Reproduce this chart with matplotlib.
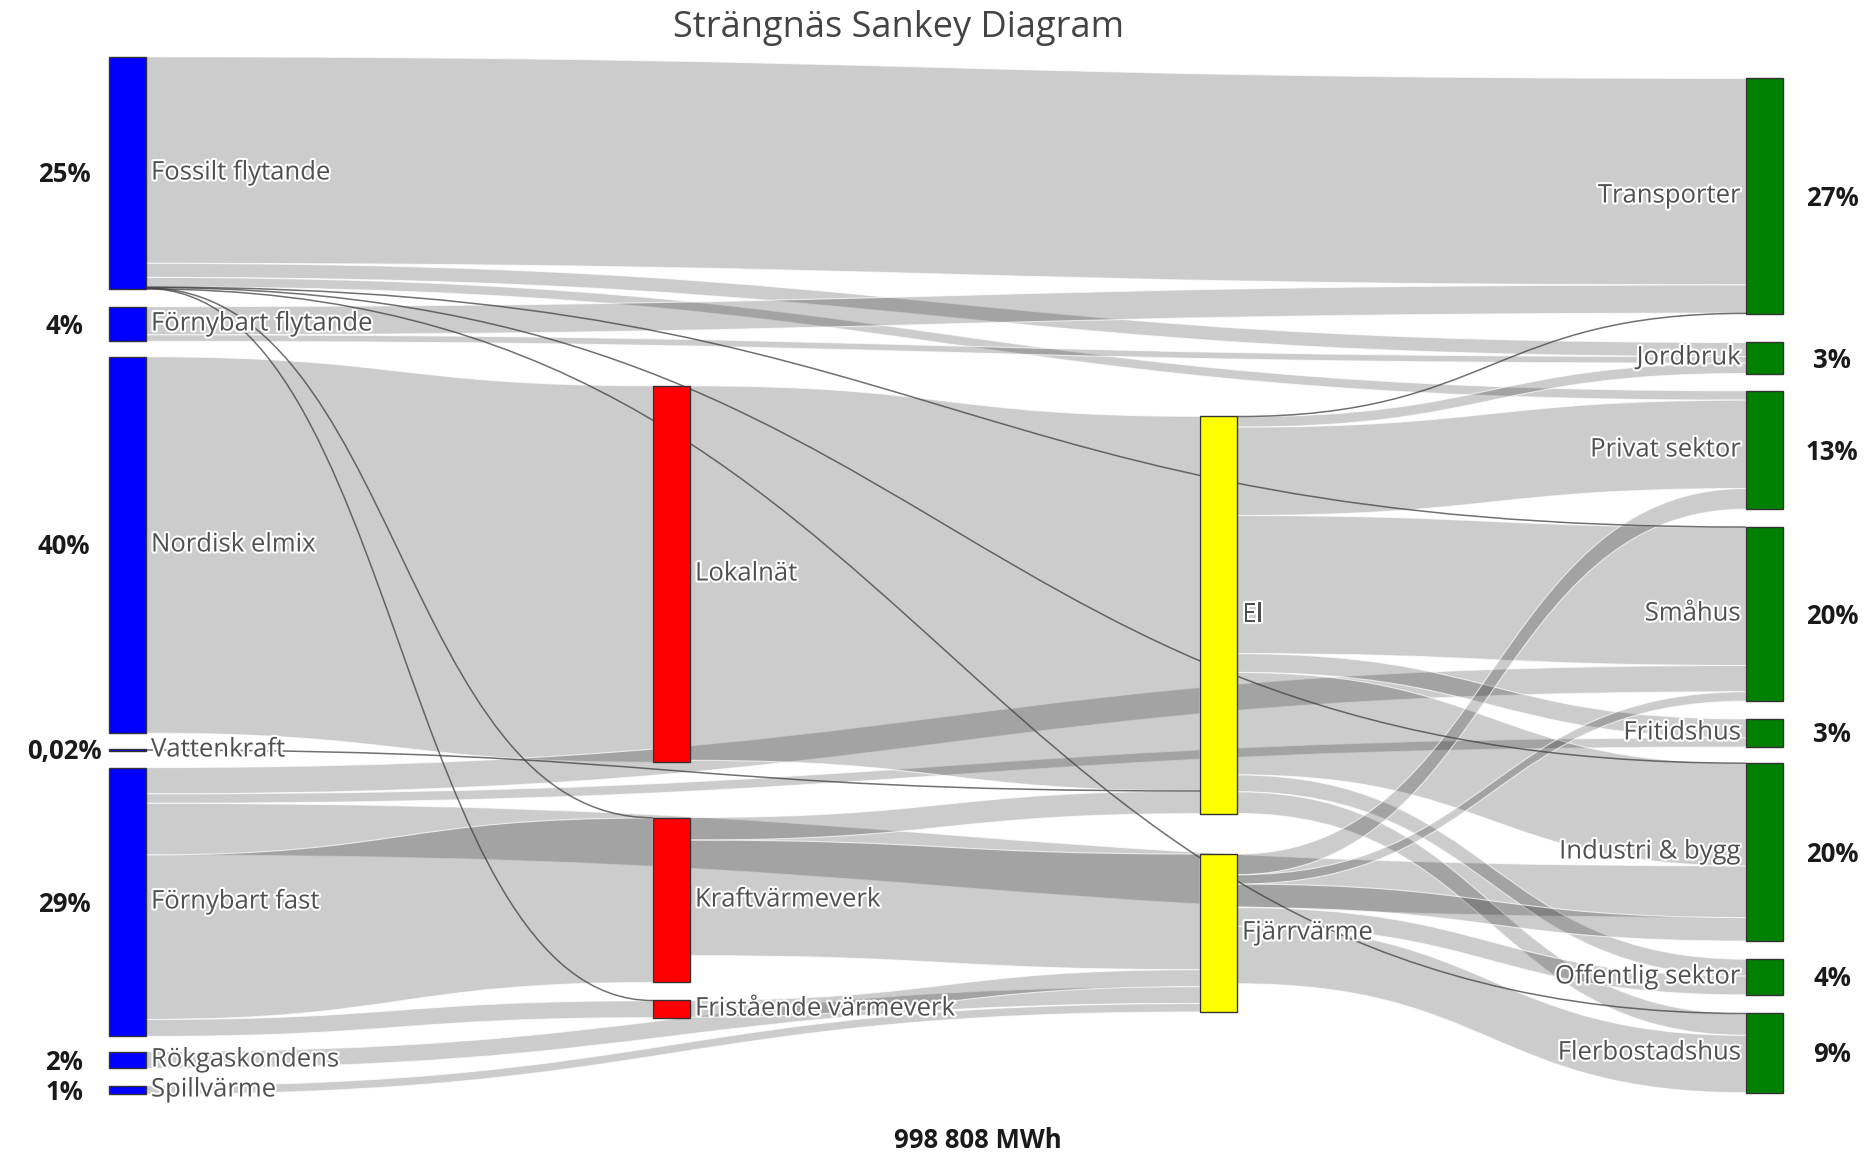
import matplotlib.pyplot as plt
import matplotlib.patheffects as pe
from matplotlib.path import Path
from matplotlib.patches import PathPatch, Rectangle

plt.rcParams['font.family'] = ['Open Sans', 'DejaVu Sans']

# nodes (column 0 = sources, 3 = end use)
labels = ["Fossilt flytande", "Förnybart flytande", "Nordisk elmix", "Vattenkraft",
          "Förnybart fast", "Rökgaskondens", "Spillvärme",
          "Lokalnät", "Kraftvärmeverk", "Fristående värmeverk",
          "El", "Fjärrvärme",
          "Transporter", "Jordbruk", "Privat sektor", "Småhus", "Fritidshus",
          "Industri & bygg", "Offentlig sektor", "Flerbostadshus"]
column = [0, 0, 0, 0, 0, 0, 0, 1, 1, 1, 2, 2, 3, 3, 3, 3, 3, 3, 3, 3]
colors = ["#0000ff"] * 7 + ["#ff0000"] * 3 + ["#ffff00"] * 2 + ["#008000"] * 8

# flows, GWh (total 998 808 MWh)
link_source = ["Fossilt flytande"] * 8 + ["Förnybart flytande"] * 2 + ["Nordisk elmix", "Vattenkraft"] \
    + ["Förnybart fast"] * 5 + ["Rökgaskondens", "Spillvärme", "Lokalnät", "Kraftvärmeverk",
                                "Kraftvärmeverk", "Fristående värmeverk"] \
    + ["El"] * 8 + ["Fjärrvärme"] * 5
link_target = ["Transporter", "Jordbruk", "Privat sektor", "Kraftvärmeverk", "Fristående värmeverk",
               "Småhus", "Industri & bygg", "Flerbostadshus",
               "Transporter", "Jordbruk",
               "Lokalnät", "El",
               "Småhus", "Fritidshus", "Industri & bygg", "Kraftvärmeverk", "Fristående värmeverk",
               "Fjärrvärme", "Fjärrvärme", "El", "El", "Fjärrvärme", "Fjärrvärme",
               "Transporter", "Jordbruk", "Privat sektor", "Småhus", "Fritidshus",
               "Industri & bygg", "Offentlig sektor", "Flerbostadshus",
               "Privat sektor", "Småhus", "Industri & bygg", "Offentlig sektor", "Flerbostadshus"]
link_value = [219.7, 15.0, 10.0, 0.5, 0.5, 0.5, 0.5, 0.5,
              30.0, 7.0,
              400.5, 0.2,
              28.0, 10.0, 55.0, 175.0, 18.0,
              18.0, 9.0, 398.5, 24.0, 123.0, 18.0,
              0.5, 11.0, 94.0, 147.0, 20.0, 109.0, 18.0, 23.0,
              22.0, 10.0, 25.0, 20.0, 61.0]

share_left = ["25%", "4%", "40%", "0,02%", "29%", "2%", "1%"]
share_right = ["27%", "3%", "13%", "20%", "3%", "20%", "4%", "9%"]
total_text = "998 808 MWh"

# layout (like plotly node.x / node.y)
col_x = [109, 653, 1200, 1746]
node_w = 37
node_yc = [173, 324, 545, 750, 902, 1060, 1090,
           574, 900, 1009,
           615, 933,
           196, 358, 450, 614, 733, 852, 977, 1053]
scale = (1094 - 57 - 6 * 16.5) / sum(v for s, v in zip(link_source, link_value)
                                     if column[labels.index(s)] == 0)

n = len(labels)
src = [labels.index(s) for s in link_source]
tgt = [labels.index(t) for t in link_target]
v_in = [0.0] * n
v_out = [0.0] * n
for s, t, v in zip(src, tgt, link_value):
    v_out[s] += v
    v_in[t] += v
node_h = [max(a, b) * scale for a, b in zip(v_in, v_out)]
node_top = [c - h / 2 for c, h in zip(node_yc, node_h)]

# stack link ends on each node, ordered by the other end's position
y_src = [0.0] * len(src)
y_tgt = [0.0] * len(src)
for i in range(n):
    outs = sorted([k for k in range(len(src)) if src[k] == i], key=lambda k: node_yc[tgt[k]])
    y = node_top[i]
    for k in outs:
        y_src[k] = y
        y += link_value[k] * scale
    ins = sorted([k for k in range(len(src)) if tgt[k] == i], key=lambda k: node_yc[src[k]])
    y = node_top[i]
    for k in ins:
        y_tgt[k] = y
        y += link_value[k] * scale

fig = plt.figure(figsize=(18.73, 11.54), dpi=100)
ax = fig.add_axes([0, 0, 1, 1])
ax.set_xlim(0, 1873)
ax.set_ylim(1154, 0)
ax.axis('off')

C = Path.CURVE4
for k in range(len(src)):
    x0 = col_x[column[src[k]]] + node_w
    x1 = col_x[column[tgt[k]]]
    xm = (x0 + x1) / 2
    w = link_value[k] * scale
    y0, y1 = y_src[k], y_tgt[k]
    if w < 1.5:
        yc0, yc1 = y0 + w / 2, y1 + w / 2
        p = Path([(x0, yc0), (xm, yc0), (xm, yc1), (x1, yc1)], [Path.MOVETO, C, C, C])
        ax.add_patch(PathPatch(p, fc='none', ec=(0.25, 0.25, 0.25, 0.75), lw=1.1, zorder=3))
        continue
    verts = [(x0, y0), (xm, y0), (xm, y1), (x1, y1), (x1, y1 + w),
             (xm, y1 + w), (xm, y0 + w), (x0, y0 + w), (x0, y0)]
    codes = [Path.MOVETO, C, C, C, Path.LINETO, C, C, C, Path.CLOSEPOLY]
    ax.add_patch(PathPatch(Path(verts, codes), fc=(0, 0, 0, 0.2),
                           ec=(1, 1, 1, 0.7), lw=0.8, zorder=2))

halo = [pe.withStroke(linewidth=3, foreground='white')]
for i in range(n):
    x = col_x[column[i]]
    h = max(node_h[i], 2.0)
    ax.add_patch(Rectangle((x, node_yc[i] - h / 2), node_w, h, fc=colors[i],
                           ec='#333333', lw=1.0, zorder=4))
    if column[i] < 3:
        ax.text(x + node_w + 5, node_yc[i], labels[i], ha='left', va='center',
                fontsize=18.5, color='#505050', path_effects=halo, zorder=5)
    else:
        ax.text(x - 5, node_yc[i], labels[i], ha='right', va='center',
                fontsize=18.5, color='#505050', path_effects=halo, zorder=5)

left_nodes = [i for i in range(n) if column[i] == 0]
right_nodes = [i for i in range(n) if column[i] == 3]
for i, s in zip(left_nodes, share_left):
    ax.text(64, node_yc[i] + 2, s, ha='center', va='center', fontsize=18.5,
            fontweight='bold', color='#1a1a1a')
for i, s in zip(right_nodes, share_right):
    ax.text(1832, node_yc[i] + 2, s, ha='center', va='center', fontsize=18.5,
            fontweight='bold', color='#1a1a1a')

ax.text(899, 28, "Strängnäs Sankey Diagram", ha='center', va='center',
        fontsize=26, color='#444444')
ax.text(978, 1140, total_text, ha='center', va='center', fontsize=18.5,
        fontweight='bold', color='#1a1a1a')

fig.savefig('out.png', dpi=100)
